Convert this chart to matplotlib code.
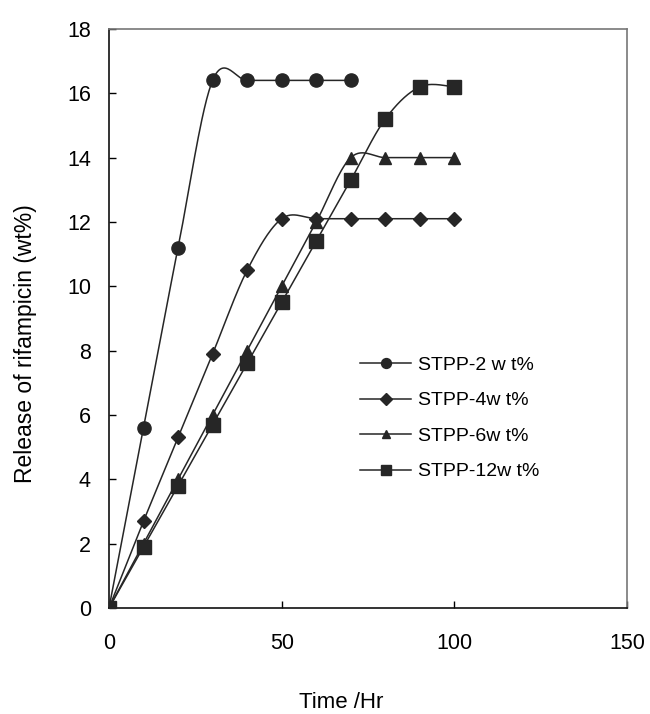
import numpy as np
import matplotlib
matplotlib.use("Agg")
import matplotlib.pyplot as plt

plt.rcParams['font.family'] = ['Liberation Sans', 'DejaVu Sans']

# data
time_2 = [0, 10, 20, 30, 40, 50, 60, 70]
stpp_2 = [0, 5.6, 11.2, 16.4, 16.4, 16.4, 16.4, 16.4]
time_long = [0, 10, 20, 30, 40, 50, 60, 70, 80, 90, 100]
stpp_4 = [0, 2.7, 5.3, 7.9, 10.5, 12.1, 12.1, 12.1, 12.1, 12.1, 12.1]
stpp_6 = [0, 2.0, 4.0, 6.0, 8.0, 10.0, 12.0, 14.0, 14.0, 14.0, 14.0]
stpp_12 = [0, 1.9, 3.8, 5.7, 7.6, 9.5, 11.4, 13.3, 15.2, 16.2, 16.2]
labels = ['STPP-2 w t%', 'STPP-4w t%', 'STPP-6w t%', 'STPP-12w t%']


def smooth(x, y, n=30):
    """Excel-like smoothed line (Catmull-Rom bezier through the points)."""
    p = np.column_stack([x, y]).astype(float)
    ext = np.vstack([p[0], p, p[-1]])
    out = []
    t = np.linspace(0, 1, n)[:, None]
    for i in range(1, len(ext) - 2):
        p0, p1, p2, p3 = ext[i - 1], ext[i], ext[i + 1], ext[i + 2]
        c1 = p1 + (p2 - p0) / 6
        c2 = p2 - (p3 - p1) / 6
        seg = ((1 - t) ** 3 * p1 + 3 * (1 - t) ** 2 * t * c1
               + 3 * (1 - t) * t ** 2 * c2 + t ** 3 * p2)
        out.append(seg if i == 1 else seg[1:])
    seg = np.vstack(out)
    return seg[:, 0], seg[:, 1]


fig = plt.figure(figsize=(6.5, 7.14), dpi=100)
ax = fig.add_axes([0.1677, 0.1485, 0.797, 0.811])

c = '#262626'
series = [(time_2, stpp_2, 'o', 9.5), (time_long, stpp_4, 'D', 7.5),
          (time_long, stpp_6, '^', 8.5), (time_long, stpp_12, 's', 9.5)]
handles = []
for (x, y, m, ms), lab in zip(series, labels):
    sx, sy = smooth(x, y)
    ax.plot(sx, sy, color=c, lw=1.1, zorder=2)
    ax.plot(x, y, ls='none', marker=m, ms=ms, color=c, zorder=3)
    h, = ax.plot([], [], color=c, lw=1.1, marker=m, ms=ms * 0.75, label=lab)
    handles.append(h)

ax.set_xlim(0, 150)
ax.set_ylim(0, 18)
ax.set_xticks([0, 50, 100, 150])
ax.set_yticks(range(0, 19, 2))
ax.tick_params(direction='in', length=5, width=1, labelsize=15.5,
               top=False, right=False)
ax.tick_params(axis='y', pad=13)
ax.tick_params(axis='x', pad=18)
for s in ['left', 'bottom']:
    ax.spines[s].set_linewidth(1.2)
    ax.spines[s].set_color('#111111')
for s in ['top', 'right']:
    ax.spines[s].set_linewidth(1.2)
    ax.spines[s].set_color('#777777')

ax.set_xlabel('Time /Hr', fontsize=16)
ax.xaxis.set_label_coords(0.448, -0.145)
ax.set_ylabel('Release of rifampicin (wt%)', fontsize=16.5)
ax.yaxis.set_label_coords(-0.139, 0.456)

ax.legend(handles=handles, loc='upper left', bbox_to_anchor=(0.47, 0.448),
          frameon=False, fontsize=14, handlelength=2.63, handletextpad=0.35,
          labelspacing=0.92, borderaxespad=0)

fig.savefig('out.png', dpi=100)
